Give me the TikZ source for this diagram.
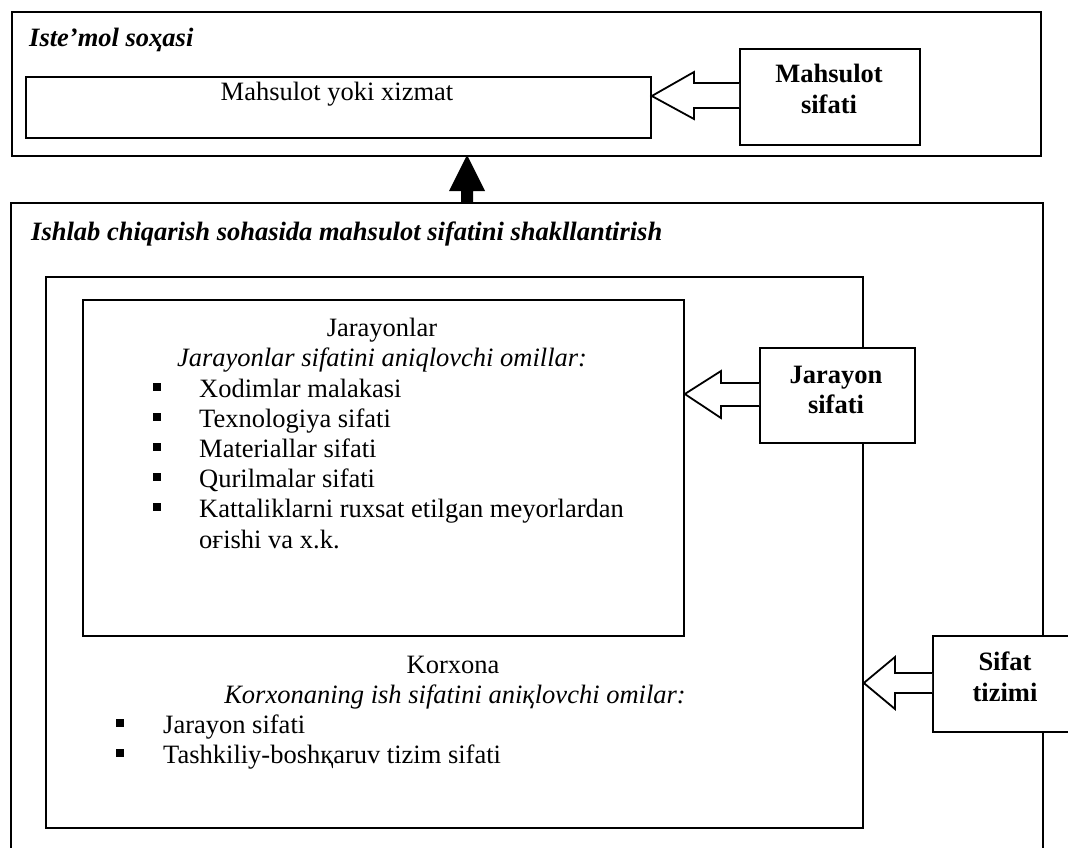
\documentclass[tikz,border=0pt]{standalone}
\usepackage{fontspec}
\setmainfont{Liberation Serif}
\begin{document}
\begin{tikzpicture}[x=1pt,y=-1pt,
  frame/.style={draw, line width=1.8pt, fill=white, anchor=north west, inner sep=0pt},
  edge/.style={line width=1.8pt},
  blockarrow/.style={draw, line width=1.8pt, fill=white, line join=miter},
  body/.style={inner sep=0pt, font=\fontsize{26.5}{30.5}\selectfont},
  head/.style={body, font=\fontsize{26.5}{30.5}\selectfont\bfseries\itshape},
  strong/.style={body, font=\fontsize{26.5}{30.5}\selectfont\bfseries},
  slant/.style={body, font=\fontsize{26.5}{30.5}\selectfont\itshape},
  item/.style={body, anchor=base west},
  sq/.style={fill=black, inner sep=0pt, minimum size=7.5pt}
]
\useasboundingbox (0,0) rectangle (1068,847);
\clip (0,0) rectangle (1068,847);

% ---- consumption sphere ----
\node[frame, minimum width=1029pt, minimum height=144pt] (use) at (11,11) {};
\node[head, anchor=base west] (useT) at (29,46) {Iste’mol soҳasi};
\node[frame, minimum width=625pt, minimum height=61pt] (prod) at (25,76) {};
\node[body, anchor=base] (prodT) at (337,100) {Mahsulot yoki xizmat};
\node[frame, minimum width=180pt, minimum height=96pt] (pq) at (739,48) {};
\node[strong, anchor=base] (pqA) at (829,82) {Mahsulot};
\node[strong, anchor=base] (pqB) at (829,113) {sifati};
\draw[blockarrow] (pq.west |- 0,83) -- (694,83) -- (694,72) -- (prod.east |- 0,96)
  -- (694,119) -- (694,108) -- (pq.west |- 0,108);

% ---- production sphere (open at the bottom) ----
\coordinate (mkL) at (11,860);
\coordinate (mkR) at (1043,860);
\draw[edge] (mkL) -- (11,203) -- (1043,203) -- (mkR);
\node[head, anchor=base west] (mkT) at (31,240) {Ishlab chiqarish sohasida mahsulot sifatini shakllantirish};

% upward arrow between the two spheres
\fill (461,203) -- (461,191) -- (449,191) -- (467,155) -- (485,191) -- (473,191) -- (473,203) -- cycle;

% enterprise
\node[frame, minimum width=817pt, minimum height=551pt] (ent) at (45,276) {};
% processes
\node[frame, minimum width=601pt, minimum height=336pt] (proc) at (82,299) {};
\node[body, anchor=base] (procT) at (382,336) {Jarayonlar};
\node[slant, anchor=base] (procS) at (382,366) {Jarayonlar sifatini aniqlovchi omillar:};
\node[item] (p1) at (199,397) {Xodimlar malakasi};
\node[item] (p2) at (199,427) {Texnologiya sifati};
\node[item] (p3) at (199,457) {Materiallar sifati};
\node[item] (p4) at (199,487) {Qurilmalar sifati};
\node[item] (p5) at (199,517) {Kattaliklarni ruxsat etilgan meyorlardan};
\node[item] (p6) at (199,548) {oғishi va x.k.};
\foreach \n/\y in {b1/387,b2/417,b3/447,b4/477,b5/507}
  \node[sq] (\n) at (157,\y) {};

\node[body, anchor=base] (entT) at (453,673) {Korxona};
\node[slant, anchor=base] (entS) at (455,703) {Korxonaning ish sifatini aniқlovchi omilar:};
\node[item] (e1) at (163,733) {Jarayon sifati};
\node[item] (e2) at (163,763) {Tashkiliy-boshқaruv tizim sifati};
\node[sq] (eb1) at (120,723) {};
\node[sq] (eb2) at (120,753) {};

% process quality
\node[frame, minimum width=155pt, minimum height=95pt] (jq) at (759,347) {};
\node[strong, anchor=base] (jqA) at (836,383) {Jarayon};
\node[strong, anchor=base] (jqB) at (836,413) {sifati};
\draw[blockarrow] (jq.west |- 0,383) -- (721,383) -- (721,371) -- (proc.east |- 0,394)
  -- (721,418) -- (721,406) -- (jq.west |- 0,406);

% quality system
\node[frame, minimum width=146pt, minimum height=96pt] (qs) at (932,635) {};
\node[strong, anchor=base] (qsA) at (1005,670) {Sifat};
\node[strong, anchor=base] (qsB) at (1005,701) {tizimi};
\draw[blockarrow] (qs.west |- 0,673) -- (895,673) -- (895,657) -- (ent.east |- 0,683)
  -- (895,709) -- (895,693) -- (qs.west |- 0,693);
\end{tikzpicture}
\end{document}
